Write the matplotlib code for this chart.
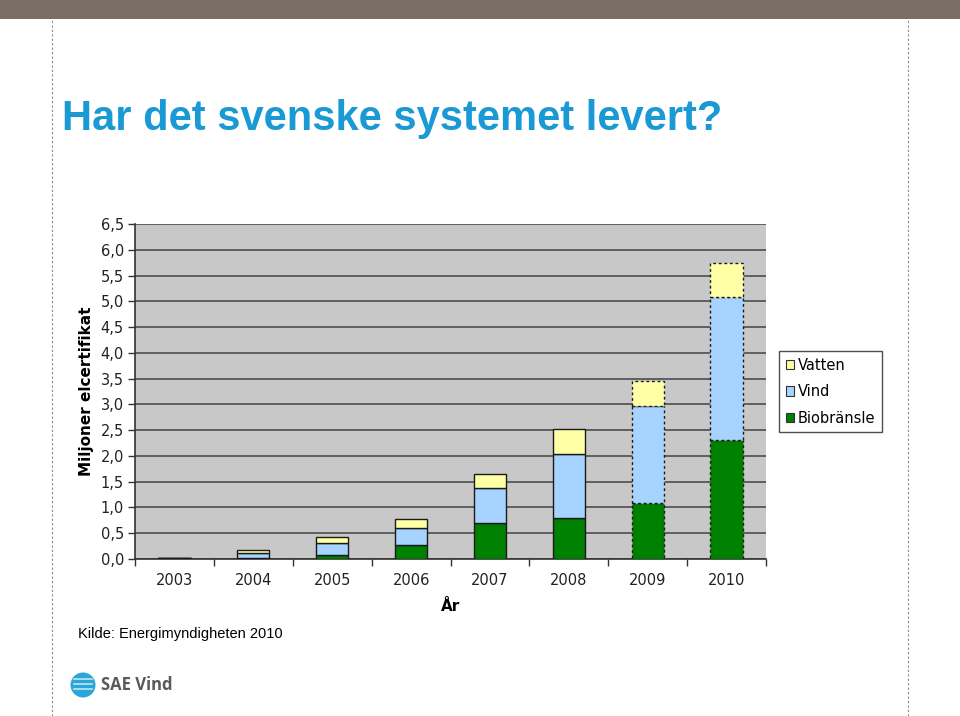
import matplotlib
matplotlib.use("Agg")
import matplotlib.pyplot as plt
import numpy as np
from matplotlib.patches import Rectangle, Ellipse
from matplotlib.lines import Line2D

years = ["2003", "2004", "2005", "2006", "2007", "2008", "2009", "2010"]
biobransle = [0.01, 0.01, 0.08, 0.27, 0.69, 0.80, 1.08, 2.30]
vind = [0.005, 0.10, 0.24, 0.34, 0.68, 1.24, 1.89, 2.78]
vatten = [0.005, 0.06, 0.10, 0.16, 0.28, 0.48, 0.49, 0.66]
dashed_years = ["2009", "2010"]
yticks = [0.0, 0.5, 1.0, 1.5, 2.0, 2.5, 3.0, 3.5, 4.0, 4.5, 5.0, 5.5, 6.0, 6.5]

W, H = 960, 716
fig = plt.figure(figsize=(W / 100, H / 100), dpi=100)

# top band
fig.add_artist(Rectangle((0, 1 - 19 / H), 1, 19 / H, transform=fig.transFigure,
                         facecolor="#7a6f64", edgecolor="none"))
# dotted vertical guide lines
for xp in (52, 908):
    fig.add_artist(Line2D([xp / W, xp / W], [0, 1 - 20 / H], transform=fig.transFigure,
                          color="#888888", lw=0.8, ls=(0, (2, 2))))

fig.text(62 / W, 1 - 119 / H, "Har det svenske systemet levert?", color="#1a9ad4",
         fontsize=30, fontweight="bold", family="Liberation Sans", va="center", ha="left")

ax = fig.add_axes([135 / W, 1 - 559 / H, (766 - 135) / W, (559 - 224) / H])
ax.set_facecolor("#c8c8c8")
x = np.arange(len(years))
bw = 0.41
bottom = np.zeros(len(years))
series = [(biobransle, "#008000", "Biobränsle"), (vind, "#a6d3ff", "Vind"), (vatten, "#ffffa6", "Vatten")]
for vals, col, lab in series:
    for i, v in enumerate(vals):
        dashed = years[i] in dashed_years
        ax.bar(x[i], v, bw, bottom=bottom[i], color=col, edgecolor="#1a1a1a",
               linewidth=1.0, linestyle=(0, (2, 2)) if dashed else "-", zorder=3)
    bottom += np.array(vals)

ax.set_xlim(-0.5, len(years) - 0.5)
ax.set_ylim(0, 6.5)
ax.set_yticks(yticks)
ax.set_yticklabels([f"{t:.1f}".replace(".", ",") for t in yticks], fontsize=10.5,
                   family="DejaVu Sans", color="#222222")
ax.yaxis.grid(True, color="#4d4d4d", lw=1.2, zorder=1)
ax.set_axisbelow(True)
ax.set_xticks(x)
ax.set_xticklabels(years, fontsize=10.5, family="DejaVu Sans", color="#222222")
ax.tick_params(axis="x", length=0, pad=10)
ax.set_xticks(np.arange(-0.5, len(years)), minor=True)
ax.tick_params(axis="x", which="minor", length=5, width=1, color="#333333")
ax.tick_params(axis="y", length=5, width=1, color="#333333", pad=3)
for s in ("top", "right"):
    ax.spines[s].set_visible(False)
for s in ("left", "bottom"):
    ax.spines[s].set_color("#333333")
    ax.spines[s].set_linewidth(1.2)

ax.set_ylabel("Miljoner elcertifikat", fontsize=11, fontweight="bold", family="DejaVu Sans",
              labelpad=5)
ax.set_xlabel("År", fontsize=11, fontweight="bold", family="DejaVu Sans", labelpad=8)

# legend
handles = [Rectangle((0, 0), 1, 1, facecolor=c, edgecolor="#333333", lw=0.8)
           for c in ("#ffffa6", "#a6d3ff", "#008000")]
leg = fig.legend(handles, ["Vatten", "Vind", "Biobränsle"],
                 loc="upper left", bbox_to_anchor=(779 / W, 1 - 351 / H),
                 frameon=True, fancybox=False, handlelength=0.6,
                 handleheight=0.6, handletextpad=0.25, borderpad=0.45, labelspacing=0.8,
                 borderaxespad=0, prop={"family": "DejaVu Sans", "size": 10.5})
leg.get_frame().set_edgecolor("#222222")
leg.get_frame().set_linewidth(1.0)

fig.text(78 / W, 1 - 634 / H, "Kilde: Energimyndigheten 2010", fontsize=10.5,
         family="Liberation Sans", va="center", ha="left", color="black")

# logo
fig.add_artist(Ellipse((83 / W, 1 - 685 / H), 25 / W, 25 / H, transform=fig.transFigure,
                       facecolor="#2aa7d8", edgecolor="none"))
for dy in (-6, -1, 4):
    fig.add_artist(Line2D([74 / W, 92 / W], [1 - (685 + dy) / H] * 2, transform=fig.transFigure,
                          color="white", lw=1.2, alpha=0.7))
fig.text(101 / W, 1 - 685 / H, "SAE Vind", fontsize=12, fontweight="bold",
         family="Open Sans", color="#5a5a5a", va="center", ha="left")

fig.savefig("out.png", dpi=100)
